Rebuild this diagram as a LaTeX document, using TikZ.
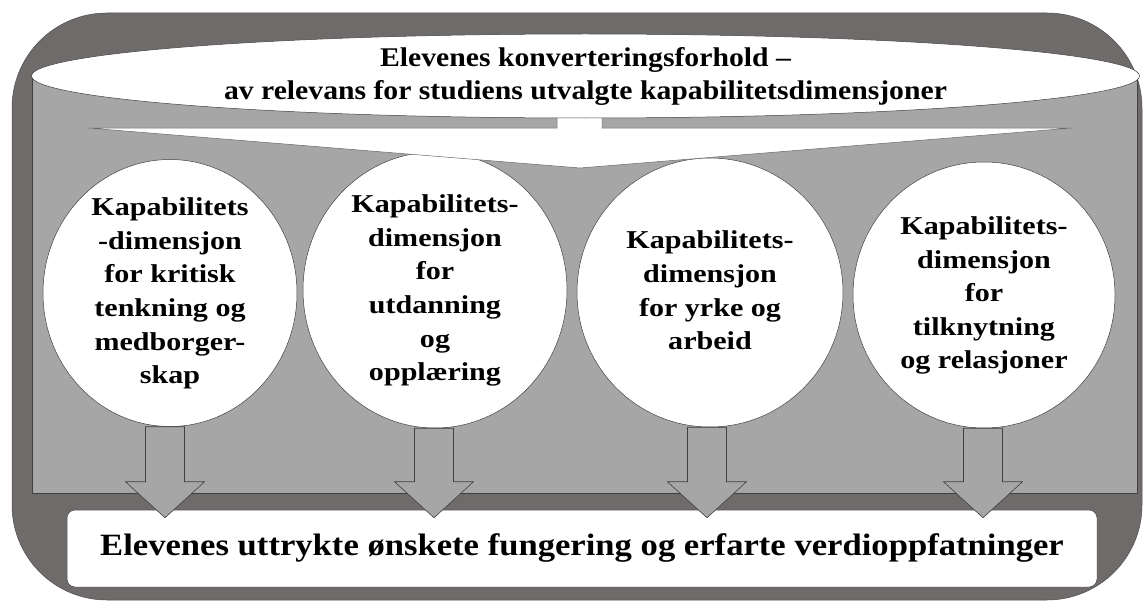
\documentclass[tikz,border=0pt]{standalone}
\usepackage{fontspec}
\setmainfont{Liberation Serif}
\usetikzlibrary{shapes.geometric,calc}

\definecolor{framegray}{HTML}{6F6B6B}
\definecolor{panelgray}{HTML}{A6A6A6}
\definecolor{edgegray}{HTML}{404040}

% horizontally widened bold text block
\newcommand\widetext[4]{\scalebox{#1}[1]{\fontsize{#2}{#3}\selectfont\bfseries\begin{tabular}{@{}c@{}}#4\end{tabular}}}
\newcommand\captext[1]{\widetext{1.17}{25.7}{33.6}{#1}}

% broad downward block arrow from a capability node to the outcome box
\newcommand\blockarrow[2]{%
  \draw[barrow] let \p1=($(#1.south)+(#2,0)$), \p2=(out.north) in
    (\x1-19.5pt,\y1) -- (\x1-19.5pt,\y2+28pt) -- (\x1-39.5pt,\y2+28pt)
    -- (\x1,\y2-8pt) -- (\x1+39.5pt,\y2+28pt) -- (\x1+19.5pt,\y2+28pt)
    -- (\x1+19.5pt,\y1) -- cycle;}

\tikzset{
  capab/.style={ellipse, draw=edgegray, fill=white, line width=0.5pt, inner sep=-45pt},
  topell/.style={ellipse, draw=edgegray, fill=white, line width=0.5pt, inner sep=-25pt,
    minimum width=1108pt, minimum height=84pt},
  outbox/.style={rectangle, draw=edgegray, fill=white, line width=0.5pt, rounded corners=8pt,
    minimum width=1030pt, minimum height=77pt, inner sep=0pt},
  barrow/.style={fill=panelgray, draw=edgegray, line width=0.6pt, line join=miter},
}

\begin{document}
\begin{tikzpicture}[x=1pt, y=-1pt]
\useasboundingbox (0,0) rectangle (1144,602);

% outer frame and inner panel
\draw[fill=framegray, draw=framegray!70!black, line width=0.5pt, rounded corners=95pt]
  (12,13) rectangle (1142,600);
\draw[fill=panelgray, draw=edgegray, line width=0.6pt] (32,76) rectangle (1137,493);

% capability dimensions
\node[capab, minimum width=254pt, minimum height=267pt] (c1) at (170,293)
  {\captext{Kapabilitets\\-dimensjon\\for kritisk\\tenkning og\\medborger-\\skap}};
\node[capab, minimum width=264pt, minimum height=276pt] (c2) at (435,290)
  {\captext{Kapabilitets-\\dimensjon\\for\\utdanning\\og\\opplæring}};
\node[capab, minimum width=266pt, minimum height=269pt] (c3) at (710,292.5)
  {\captext{Kapabilitets-\\dimensjon\\for yrke og\\arbeid}};
\node[capab, minimum width=262pt, minimum height=266pt] (c4) at (984,295)
  {\captext{Kapabilitets-\\dimensjon\\for\\tilknytning\\og relasjoner}};

% wide arrow spreading from the conversion factors to the dimensions
\draw[fill=white, draw=edgegray!80, line width=0.5pt, line join=miter]
  (557,95) -- (557,128) -- (88,128) -- (580,168) -- (1072,128) -- (602,128) -- (602,95) -- cycle;

% conversion factors
\node[topell] (conv) at (585.5,76)
  {\widetext{1.10}{27}{33}{Elevenes konverteringsforhold –\\av relevans for studiens utvalgte kapabilitetsdimensjoner}};

% outcome
\node[outbox] (out) at (582,548.5)
  {\scalebox{1.117}[1]{\fontsize{31}{36}\selectfont\bfseries Elevenes uttrykte ønskete fungering og erfarte verdioppfatninger}};

\blockarrow{c1}{-5}
\blockarrow{c2}{-1}
\blockarrow{c3}{-3}
\blockarrow{c4}{-1}
\end{tikzpicture}
\end{document}
